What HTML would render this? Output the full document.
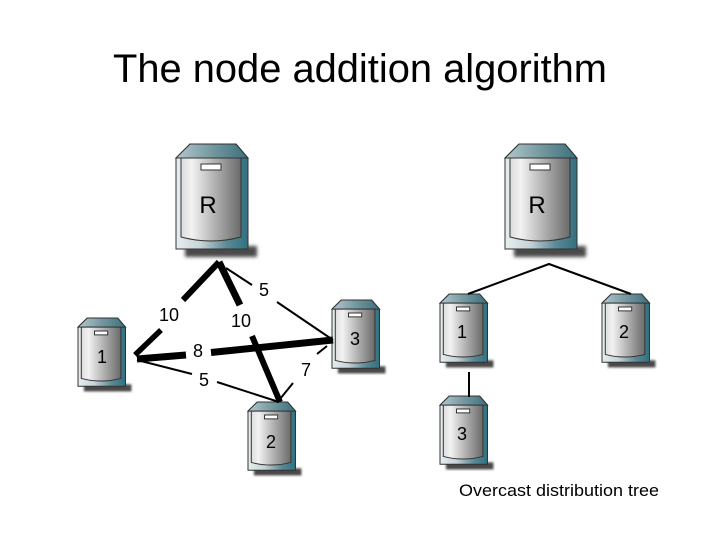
<!DOCTYPE html>
<html>
<head>
<meta charset="utf-8">
<style>
html,body{margin:0;padding:0;background:#fff;}
svg{display:block;}
text{font-family:"Liberation Sans",sans-serif;fill:#000;}
</style>
</head>
<body>
<svg width="720" height="540" viewBox="0 0 720 540" xmlns="http://www.w3.org/2000/svg">
<defs>
<linearGradient id="cap" x1="0" y1="0" x2="1" y2="0">
<stop offset="0" stop-color="#b4c8cf"/><stop offset="0.5" stop-color="#75989f"/><stop offset="1" stop-color="#3a6f7d"/>
</linearGradient>
<linearGradient id="side" x1="0" y1="0" x2="1" y2="0">
<stop offset="0" stop-color="#e8eef0"/><stop offset="0.35" stop-color="#c5d2d7"/><stop offset="0.7" stop-color="#5d8a97"/><stop offset="1" stop-color="#30707f"/>
</linearGradient>
<linearGradient id="face" x1="0" y1="0" x2="1" y2="0">
<stop offset="0" stop-color="#dcdcdc"/><stop offset="0.18" stop-color="#f2f2f2"/><stop offset="0.6" stop-color="#ababab"/><stop offset="1" stop-color="#6a6a6a"/>
</linearGradient>
<filter id="blur" x="-20%" y="-100%" width="140%" height="300%"><feGaussianBlur stdDeviation="1.8"/></filter>
<g id="srv">
<rect x="9" y="102" width="72" height="11" fill="#4a4a4a" filter="url(#blur)"/>
<path d="M0 14 L14 0 H60 L72 14 V105 H0 Z" fill="url(#side)" stroke="#333" stroke-width="1" vector-effect="non-scaling-stroke"/>
<path d="M0 14 L14 0 H60 L72 14 Z" fill="url(#cap)" stroke="#333" stroke-width="1" vector-effect="non-scaling-stroke"/>
<path d="M5 14 H65 V93 Q35 101 5 93 Z" fill="url(#face)" stroke="#333" stroke-width="1" vector-effect="non-scaling-stroke"/>
<rect x="25" y="20" width="20" height="6" fill="#fff" stroke="#333" stroke-width="1" vector-effect="non-scaling-stroke"/>
</g>
</defs>

<text x="113" y="82" font-size="40" textLength="494" lengthAdjust="spacingAndGlyphs">The node addition algorithm</text>

<use href="#srv" transform="translate(176,144)"/>
<use href="#srv" transform="translate(505,144)"/>
<use href="#srv" transform="translate(78,318) scale(0.66,0.65)"/>
<use href="#srv" transform="translate(332,300) scale(0.66,0.65)"/>
<use href="#srv" transform="translate(248,402) scale(0.66,0.65)"/>
<use href="#srv" transform="translate(440,294) scale(0.66,0.65)"/>
<use href="#srv" transform="translate(602,294) scale(0.66,0.65)"/>
<use href="#srv" transform="translate(440,396) scale(0.66,0.65)"/>

<g stroke="#000" fill="none" stroke-linecap="butt">
<line x1="183" y1="300" x2="219" y2="262" stroke-width="6"/>
<line x1="219" y1="262" x2="240" y2="305" stroke-width="7"/>
<line x1="161" y1="330" x2="135" y2="355" stroke-width="5.500"/>
<line x1="226" y1="268" x2="252" y2="285" stroke-width="2"/>
<line x1="277" y1="302" x2="333" y2="340" stroke-width="2"/>
<line x1="137" y1="359" x2="186" y2="355" stroke-width="7"/>
<line x1="211" y1="352.500" x2="333" y2="340" stroke-width="7"/>
<line x1="137" y1="360" x2="192" y2="374" stroke-width="2"/>
<line x1="217" y1="382" x2="279" y2="402" stroke-width="2"/>
<line x1="252" y1="336" x2="280" y2="402" stroke-width="6"/>
<line x1="280" y1="399" x2="293" y2="383" stroke-width="2"/>
<line x1="317" y1="354" x2="327" y2="346" stroke-width="2"/>
<polyline points="468,294 549,264 631,294" stroke-width="2"/>
<line x1="469" y1="372" x2="469" y2="397" stroke-width="2"/>
</g>

<g font-size="24" text-anchor="middle">
<text x="208" y="213">R</text>
<text x="537" y="213">R</text>
</g>
<g font-size="18" text-anchor="middle">
<text x="264" y="296">5</text>
<text x="169" y="321">10</text>
<text x="241" y="327">10</text>
<text x="198" y="357">8</text>
<text x="204" y="386">5</text>
<text x="306" y="376">7</text>
<text x="102" y="363">1</text>
<text x="355" y="345">3</text>
<text x="271" y="448">2</text>
<text x="462" y="338">1</text>
<text x="624" y="338">2</text>
<text x="462" y="440">3</text>
</g>
<text x="459" y="496" font-size="16.500" textLength="200" lengthAdjust="spacingAndGlyphs">Overcast distribution tree</text>
</svg>
</body>
</html>
